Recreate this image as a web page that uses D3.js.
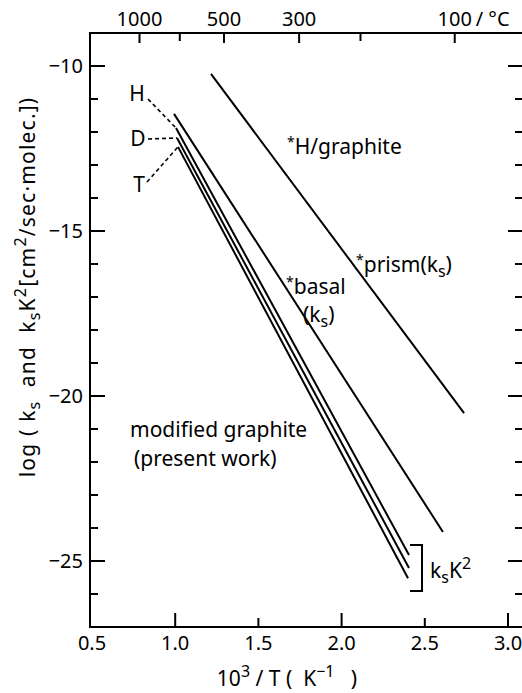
<!DOCTYPE html>
<html><head><meta charset="utf-8">
<script src="https://cdn.jsdelivr.net/npm/d3@7"></script>
<style>
body{margin:0;background:#fff}
svg{display:block}
text{font-family:"Noto Sans",sans-serif;fill:#000;white-space:pre}
</style>
</head><body>
<svg id="c" width="522" height="693"></svg>
<script>
// ---- data ----
const xTickValues = [1.0, 1.5, 2.0, 2.5, 3.0];
const xTickMajor = [true, false, true, false, true];
const xLabelValues = [0.5, 1.0, 1.5, 2.0, 2.5, 3.0];
const xLabelTexts = ["0.5", "1.0", "1.5", "2.0", "2.5", "3.0"];
const yMajorValues = [-10, -15, -20, -25];
const yMajorTexts = ["\u221210", "\u221215", "\u221220", "\u221225"];
const yMinorValues = [-26, -24, -23, -22, -21, -19, -18, -17, -16, -14, -13, -12, -11];
const topTempC = [1000, 700, 500, 300, 200, 100];
const topTempLabels = ["1000", "", "500", "300", "", "100"];

const seriesNames = ["H/graphite", "basal", "H", "D", "T"];
const seriesX1 = [1.215, 0.993, 1.005, 1.011, 1.017];
const seriesY1 = [-10.24, -11.45, -11.88, -12.18, -12.45];
const seriesX2 = [2.736, 2.609, 2.405, 2.405, 2.399];
const seriesY2 = [-20.52, -24.12, -24.82, -25.21, -25.52];

// ---- layout ----
const svg = d3.select("#c");
const PL = 90, PR = 523, PT = 33, PB = 627;
const x = d3.scaleLinear().domain([0.5, 3.0]).range([92, 508]);
const y = d3.scaleLinear().domain([-27, -9]).range([PB, PT]);
const FS = 20;   // tick label size
const AS = 21;   // annotation size

const ink = "#000";
// frame
svg.append("rect").attr("x", PL).attr("y", PT)
  .attr("width", PR - PL).attr("height", PB - PT)
  .attr("fill", "none").attr("stroke", ink).attr("stroke-width", 2);

// bottom axis ticks (inward)
const gB = svg.append("g");
xTickValues.forEach((v, i) => {
  const len = xTickMajor[i] ? 14 : 9;
  gB.append("line").attr("x1", x(v)).attr("x2", x(v))
    .attr("y1", PB).attr("y2", PB - len)
    .attr("stroke", ink).attr("stroke-width", 2);
});
xLabelValues.forEach((v, i) => {
  gB.append("text").attr("x", x(v)).attr("y", 650)
    .attr("text-anchor", "middle").attr("font-size", FS)
    .text(xLabelTexts[i]);
});
// x title
const xt = svg.append("text").attr("x", 287).attr("y", 686)
  .attr("text-anchor", "middle").attr("font-size", AS);
xt.append("tspan").text("10");
xt.append("tspan").attr("dy", -9).attr("font-size", 16).text("3");
xt.append("tspan").attr("dy", 9).text(" / T (  K");
xt.append("tspan").attr("dy", -9).attr("font-size", 16).text("\u22121");
xt.append("tspan").attr("dy", 9).text("   )");

// top axis (temperature, °C)
const gT = svg.append("g");
topTempC.forEach((t, i) => {
  const xv = x(1000 / (t + 273.15));
  gT.append("line").attr("x1", xv).attr("x2", xv)
    .attr("y1", PT).attr("y2", PT + (topTempLabels[i] ? 10 : 8))
    .attr("stroke", ink).attr("stroke-width", 2);
  if (topTempLabels[i]) {
    gT.append("text").attr("x", xv).attr("y", 26)
      .attr("text-anchor", "middle").attr("font-size", FS)
      .text(topTempLabels[i]);
  }
});
{
  const xv = x(1000 / (100 + 273.15));
  gT.append("text").attr("x", xv + 21).attr("y", 26)
    .attr("font-size", FS).text("/ \u00b0C");
}

// left / right ticks
const gL = svg.append("g");
yMajorValues.forEach((v, i) => {
  gL.append("line").attr("x1", PL).attr("x2", PL + 15)
    .attr("y1", y(v)).attr("y2", y(v)).attr("stroke", ink).attr("stroke-width", 2);
  gL.append("line").attr("x1", 508).attr("x2", 522)
    .attr("y1", y(v)).attr("y2", y(v)).attr("stroke", ink).attr("stroke-width", 2);
  gL.append("text").attr("x", 83).attr("y", y(v) + 7)
    .attr("text-anchor", "end").attr("font-size", FS).text(yMajorTexts[i]);
});
yMinorValues.forEach(v => {
  gL.append("line").attr("x1", PL).attr("x2", PL + 8)
    .attr("y1", y(v)).attr("y2", y(v)).attr("stroke", ink).attr("stroke-width", 2);
  gL.append("line").attr("x1", 515).attr("x2", 522)
    .attr("y1", y(v)).attr("y2", y(v)).attr("stroke", ink).attr("stroke-width", 2);
});

// y title (rotated)
const yt = svg.append("text")
  .attr("transform", "translate(35,287) rotate(-90)")
  .attr("text-anchor", "middle").attr("font-size", AS)
  .attr("letter-spacing", 1.2);
yt.append("tspan").text("log ( k");
yt.append("tspan").attr("dy", 5).attr("font-size", 16).text("s");
yt.append("tspan").attr("dy", -5).text("  and  k");
yt.append("tspan").attr("dy", 5).attr("font-size", 16).text("s");
yt.append("tspan").attr("dy", -5).text("K");
yt.append("tspan").attr("dy", -9).attr("font-size", 16).text("2");
yt.append("tspan").attr("dy", 9).text("[cm");
yt.append("tspan").attr("dy", -9).attr("font-size", 16).text("2");
yt.append("tspan").attr("dy", 9).text("/sec\u00b7molec.])");

// data lines
const gD = svg.append("g");
seriesNames.forEach((name, i) => {
  gD.append("line")
    .attr("x1", x(seriesX1[i])).attr("y1", y(seriesY1[i]))
    .attr("x2", x(seriesX2[i])).attr("y2", y(seriesY2[i]))
    .attr("stroke", ink).attr("stroke-width", 2);
});

// isotope labels with dashed leaders
const gA = svg.append("g");
const isoLabels = ["H", "D", "T"];
const isoLabelPos = [[137, 101], [138, 146], [139, 192]];
const isoLeaderFrom = [[148, 99], [148, 139], [147, 182]];
isoLabels.forEach((lab, i) => {
  const k = seriesNames.indexOf(lab);
  gA.append("text").attr("x", isoLabelPos[i][0]).attr("y", isoLabelPos[i][1])
    .attr("text-anchor", "middle").attr("font-size", AS).text(lab);
  gA.append("line")
    .attr("x1", isoLeaderFrom[i][0]).attr("y1", isoLeaderFrom[i][1])
    .attr("x2", x(seriesX1[k])).attr("y2", y(seriesY1[k]))
    .attr("stroke", ink).attr("stroke-width", 1.6).attr("stroke-dasharray", "4,3");
});

// annotations
function starLabel(xp, yp, txt) {
  const t = gA.append("text").attr("x", xp).attr("y", yp).attr("font-size", AS);
  t.append("tspan").attr("font-size", 14).attr("dy", -7).text("*");
  t.append("tspan").attr("dy", 7).text(txt);
  return t;
}
starLabel(287, 154, "H/graphite");
{
  const t = starLabel(356, 272, "prism(k");
  t.append("tspan").attr("dy", 5).attr("font-size", 16).text("s");
  t.append("tspan").attr("dy", -5).text(")");
}
starLabel(286, 294, "basal");
{
  const t = gA.append("text").attr("x", 303).attr("y", 322).attr("font-size", AS);
  t.append("tspan").text("(k");
  t.append("tspan").attr("dy", 5).attr("font-size", 16).text("s");
  t.append("tspan").attr("dy", -5).text(")");
}
gA.append("text").attr("x", 130).attr("y", 437).attr("font-size", AS).text("modified graphite");
gA.append("text").attr("x", 134).attr("y", 466).attr("font-size", AS).text("(present work)");

// bracket for k_sK^2
gA.append("path").attr("d", "M410,545H422V591H410")
  .attr("fill", "none").attr("stroke", ink).attr("stroke-width", 2);
{
  const t = gA.append("text").attr("x", 430).attr("y", 578).attr("font-size", AS);
  t.append("tspan").text("k");
  t.append("tspan").attr("dy", 5).attr("font-size", 16).text("s");
  t.append("tspan").attr("dy", -5).text("K");
  t.append("tspan").attr("dy", -9).attr("font-size", 16).text("2");
}
</script>
</body></html>
